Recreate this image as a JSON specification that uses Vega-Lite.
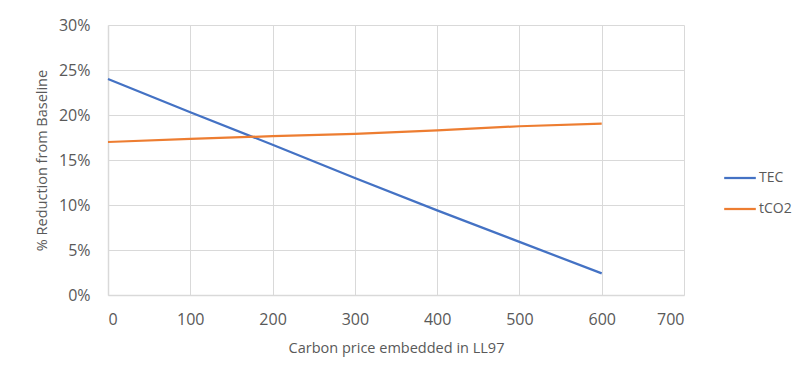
{
  "$schema": "https://vega.github.io/schema/vega-lite/v6.json",
  "width": 576,
  "height": 270,
  "autosize": "none",
  "padding": {"left": 108, "top": 25, "right": 118, "bottom": 84},
  "background": "white",
  "config": {
    "font": "Open Sans",
    "view": {"stroke": null},
    "axis": {
      "gridColor": "#d9d9d9",
      "gridWidth": 1,
      "domainColor": "#d9d9d9",
      "domainWidth": 1.5,
      "ticks": false,
      "labelColor": "#595959",
      "labelFontSize": 16,
      "titleColor": "#595959",
      "titleFontSize": 14.5,
      "titleFontWeight": "normal"
    }
  },
  "data": {
    "values": [
      {"price": 0, "series": "TEC", "reduction": 0.240},
      {"price": 100, "series": "TEC", "reduction": 0.203},
      {"price": 200, "series": "TEC", "reduction": 0.167},
      {"price": 300, "series": "TEC", "reduction": 0.130},
      {"price": 400, "series": "TEC", "reduction": 0.094},
      {"price": 500, "series": "TEC", "reduction": 0.059},
      {"price": 600, "series": "TEC", "reduction": 0.024},
      {"price": 0, "series": "tCO2", "reduction": 0.170},
      {"price": 100, "series": "tCO2", "reduction": 0.1735},
      {"price": 200, "series": "tCO2", "reduction": 0.1765},
      {"price": 300, "series": "tCO2", "reduction": 0.179},
      {"price": 400, "series": "tCO2", "reduction": 0.183},
      {"price": 500, "series": "tCO2", "reduction": 0.1875},
      {"price": 600, "series": "tCO2", "reduction": 0.1905}
    ]
  },
  "mark": {"type": "line", "strokeWidth": 2.25},
  "encoding": {
    "x": {
      "field": "price",
      "type": "quantitative",
      "scale": {"domain": [0, 700], "nice": false},
      "axis": {
        "title": "Carbon price embedded in LL97",
        "values": [0, 100, 200, 300, 400, 500, 600, 700],
        "labelPadding": 16,
        "titlePadding": 14
      }
    },
    "y": {
      "field": "reduction",
      "type": "quantitative",
      "scale": {"domain": [0, 0.3], "nice": false},
      "axis": {
        "title": "% Reduction from Baseline",
        "format": ".0%",
        "values": [0, 0.05, 0.1, 0.15, 0.2, 0.25, 0.3],
        "labelPadding": 18,
        "titlePadding": 9
      }
    },
    "color": {
      "field": "series",
      "type": "nominal",
      "sort": ["TEC", "tCO2"],
      "scale": {"domain": ["TEC", "tCO2"], "range": ["#4472C4", "#ED7D31"]},
      "legend": {
        "title": null,
        "orient": "none",
        "legendX": 615,
        "legendY": 136,
        "symbolType": "stroke",
        "symbolSize": 1000,
        "symbolStrokeWidth": 2.25,
        "labelFontSize": 14,
        "labelColor": "#595959",
        "rowPadding": 7,
        "labelOffset": 2
      }
    }
  }
}
